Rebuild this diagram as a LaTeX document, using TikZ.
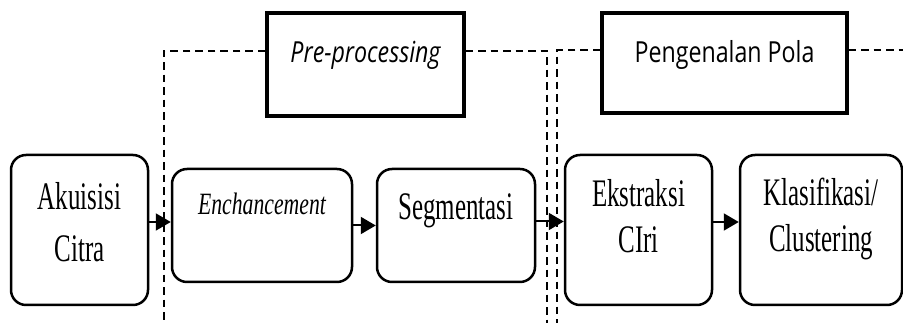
\documentclass[tikz,border=0pt]{standalone}
\usepackage{fontspec}
\newfontfamily\boxfont[FakeStretch=0.64]{Liberation Serif}
\newfontfamily\italfont[FakeStretch=0.7]{Liberation Serif}
\newfontfamily\headfont[FakeStretch=0.8]{Open Sans}
\usetikzlibrary{positioning, arrows.meta}

\begin{document}
\begin{tikzpicture}[
    x=1pt, y=1pt,
    stage/.style={rectangle, rounded corners=15pt, draw=black, line width=2.5pt,
                  inner xsep=0pt, inner ysep=0pt, align=center},
    bigtext/.style={font=\boxfont\fontsize{39}{46}\selectfont},
    header/.style={rectangle, draw=black, line width=3.2pt, inner xsep=0pt, inner ysep=0pt,
                   text height=50pt, font=\headfont\fontsize{29}{34}\selectfont},
    dashline/.style={dash pattern=on 7.5pt off 5pt, line width=1.9pt},
    arrow/.style={-{Triangle[length=15pt, width=17pt]}, line width=2pt}
  ]
    \useasboundingbox (0,0) rectangle (903,323);

    % Header boxes
    \node[header, minimum width=197pt, text depth=53pt] (pre) at (365.5, 258.5) {\itshape Pre-processing};
    \node[header, minimum width=245pt, text depth=50pt] (pola) at (724.5, 260) {Pengenalan Pola};

    % Stage boxes
    \node[stage, font=\boxfont\fontsize{39}{52}\selectfont, minimum width=137pt,
          text height=107pt, text depth=43pt] (akuisisi) at (79.5, 93) {Akuisisi\\Citra};
    \node[stage, font=\italfont\fontsize{31}{36}\selectfont\itshape, minimum width=180pt,
          text height=46pt, text depth=67pt] (enh) at (262, 97.5) {Enchancement};
    \node[stage, bigtext, minimum width=158pt,
          text height=51pt, text depth=62pt] (segm) at (456, 97.5) {Segmentasi};
    \node[stage, bigtext, minimum width=147pt,
          text height=98pt, text depth=52pt] (eks) at (638.5, 93) {Ekstraksi\\CIri};
    \node[stage, bigtext, minimum width=162pt,
          text height=97pt, text depth=53pt] (klas) at (821, 93) {Klasifikasi/\\Clustering};

    % Dashed brackets
    \coordinate (preL) at (164, 272);
    \coordinate (preLb) at (164, 0);
    \coordinate (preR) at (547, 272);
    \coordinate (preRb) at (547, 0);
    \coordinate (polL) at (557, 273);
    \coordinate (polLb) at (557, 0);
    \coordinate (polR) at (903, 273);
    \draw[dashline] (pre.west |- preL) -- (preL) -- (preLb);
    \draw[dashline] (pre.east |- preR) -- (preR) -- (preRb);
    \draw[dashline] (pola.west |- polL) -- (polL) -- (polLb);
    \draw[dashline] (pola.east |- polR) -- (polR);

    % Arrows between stages
    \draw[arrow] ([yshift=8pt]akuisisi.east) -- ([yshift=8pt]akuisisi.east -| enh.west);
    \draw[arrow] (enh.east) -- (segm.west);
    \draw[arrow] ([yshift=4pt]segm.east) -- ([yshift=4pt]segm.east -| eks.west);
    \draw[arrow] ([yshift=8pt]eks.east) -- ([yshift=8pt]klas.west);

  \end{tikzpicture}
\end{document}
